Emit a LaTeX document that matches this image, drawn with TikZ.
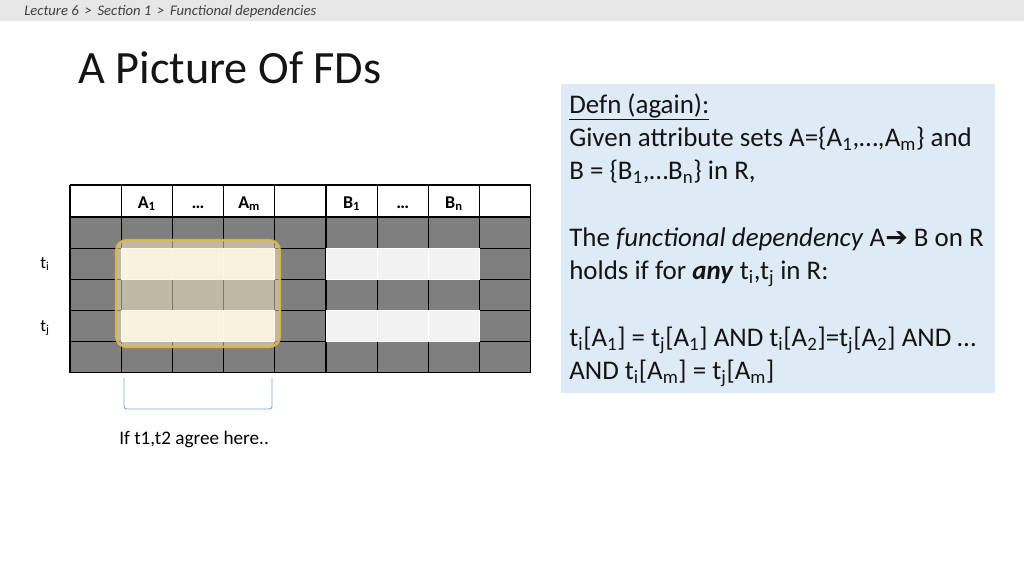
\documentclass[tikz,border=0pt]{standalone}
\usepackage{fontspec}
\setmainfont{Carlito}
\newfontfamily\dejavu{DejaVu Sans}
\definecolor{hdrgray}{RGB}{230,230,230}
\definecolor{cellgray}{RGB}{127,127,127}
\definecolor{celllight}{RGB}{242,242,242}
\definecolor{hlfill}{RGB}{255,242,204}
\definecolor{hlborder}{RGB}{228,183,62}
\definecolor{defnblue}{RGB}{222,235,247}
\definecolor{bracecol}{RGB}{120,170,215}
\definecolor{crumbcol}{RGB}{64,64,64}
\definecolor{txt}{RGB}{20,20,20}
\begin{document}
\begin{tikzpicture}[x=0.75pt,y=-0.75pt,
  crumb/.style={anchor=base west,inner sep=0,font=\fontsize{11}{13}\selectfont\itshape,text=crumbcol},
  titletext/.style={anchor=base west,inner sep=0,font=\fontsize{34.7}{40}\selectfont,text=txt},
  defn/.style={anchor=base west,inner sep=0,font=\fontsize{20.2}{24}\selectfont,text=txt},
  colhead/.style={anchor=base,inner sep=0,font=\fontsize{13.5}{15}\selectfont\bfseries},
  rowlab/.style={anchor=base,inner sep=0,font=\fontsize{13}{15}\selectfont},
  caption/.style={anchor=base west,inner sep=0,font=\fontsize{14.4}{17}\selectfont},
  gridline/.style={draw=black,line width=0.8pt},
  lightcell/.style={fill=celllight,draw=white,line width=0.5pt},
  highlight/.style={fill=hlfill,fill opacity=0.5,draw=hlborder,draw opacity=0.9,line width=1.6pt,rounded corners=8pt},
  bracepath/.style={draw=bracecol,line width=0.7pt,rounded corners=2pt}
]
\useasboundingbox (0,0) rectangle (1024,576);
\fill[white] (0,0) rectangle (1024,576);
% breadcrumb bar
\fill[hdrgray] (0,0) rectangle (1024,21);
\node[crumb] (crumbtext) at (24,15) {Lecture 6 \,\textgreater\, Section 1 \,\textgreater\, Functional dependencies};
% title
\node[titletext] (title) at (78,83) {A Picture Of FDs};
% table
\fill[cellgray] (70,217) rectangle (530.8,372.5);
\foreach \x in {0,...,9} \draw[gridline] ({70+\x*51.2},185) -- ({70+\x*51.2},372.5);
\foreach \y in {185,217,248.1,279.2,310.3,341.4,372.5} \draw[gridline] (70,\y) -- (530.8,\y);
\foreach \c in {1,2,3,5,6,7} \foreach \y in {248.1,310.3}
  \draw[lightcell] ({70+\c*51.2},\y) rectangle ({70+(\c+1)*51.2},{\y+31.1});
\node[colhead] (hA1) at ({70+1.5*51.2},208) {A\textsubscript{1}};
\node[colhead] (hAd) at ({70+2.5*51.2},208) {…};
\node[colhead] (hAm) at ({70+3.5*51.2},208) {A\textsubscript{m}};
\node[colhead] (hB1) at ({70+5.5*51.2},208) {B\textsubscript{1}};
\node[colhead] (hBd) at ({70+6.5*51.2},208) {…};
\node[colhead] (hBn) at ({70+7.5*51.2},208) {B\textsubscript{n}};
\node[rowlab] (ti) at (45,268) {t\textsubscript{i}};
\node[rowlab] (tj) at (45,331) {t\textsubscript{j}};
% highlight
\draw[highlight] (116,240) rectangle (280,347);
% bracket
\coordinate (brl) at (124,378);
\coordinate (brr) at (272,378);
\draw[bracepath] (brl) -- (124,409) -- (272,409) -- (brr);
\node[caption] (cap) at (119,444) {If t1,t2 agree here..};
% definition box
\fill[defnblue] (561,84) rectangle (995,393);
\node[defn] (d1) at (569,113) {\underline{Defn (again):}};
\node[defn] (d2) at (569,146) {Given attribute sets A=\{A\textsubscript{1},…,A\textsubscript{m}\} and};
\node[defn] (d3) at (569,179) {B = \{B\textsubscript{1},…B\textsubscript{n}\} in R,};
\node[defn] (d4) at (569,246) {The \textit{functional dependency} A{\dejavu ➔} B on R};
\node[defn] (d5) at (569,279) {holds if for \textbf{\textit{any}} t\textsubscript{i},t\textsubscript{j} in R:};
\node[defn] (d6) at (569,346) {t\textsubscript{i}[A\textsubscript{1}] = t\textsubscript{j}[A\textsubscript{1}] AND t\textsubscript{i}[A\textsubscript{2}]=t\textsubscript{j}[A\textsubscript{2}] AND …};
\node[defn] (d7) at (569,379) {AND t\textsubscript{i}[A\textsubscript{m}] = t\textsubscript{j}[A\textsubscript{m}]};
\end{tikzpicture}
\end{document}
